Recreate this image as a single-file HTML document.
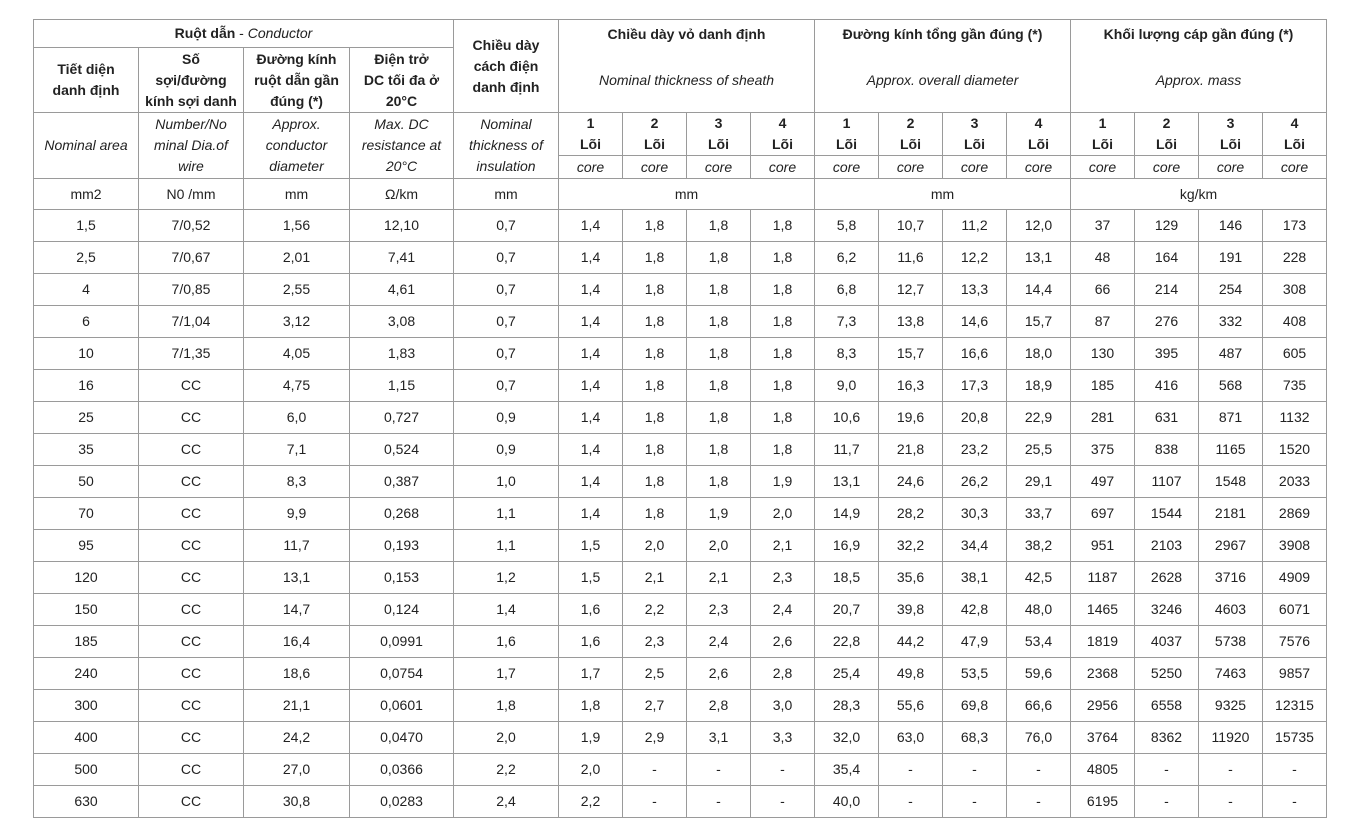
<!DOCTYPE html>
<html><head><meta charset="utf-8"><style>
body{margin:0;background:#fff;width:1367px;height:838px;overflow:hidden}
table{position:absolute;left:33px;top:19px;border-collapse:collapse;table-layout:fixed;font-family:"Liberation Sans",sans-serif;font-size:14px;color:#222}
td{border:1px solid #9a9a9a;text-align:center;padding:0;line-height:21px;overflow:hidden}
.b{font-weight:bold}
.i{font-style:italic}
tr.d td{height:31px}
</style></head><body>
<table>
<colgroup><col style="width:105px"><col style="width:105px"><col style="width:106px"><col style="width:104px"><col style="width:105px">
<col style="width:64px"><col style="width:64px"><col style="width:64px"><col style="width:64px"><col style="width:64px"><col style="width:64px"><col style="width:64px"><col style="width:64px"><col style="width:64px"><col style="width:64px"><col style="width:64px"><col style="width:64px"></colgroup>
<tr style="height:28px"><td colspan="4"><span class="b">Ruột dẫn</span> - <span class="i">Conductor</span></td>
<td rowspan="2" class="b">Chiều dày<br>cách điện<br>danh định</td>
<td colspan="4" rowspan="2" style="vertical-align:top"><div class="b" style="margin-top:4px">Chiều dày vỏ danh định</div><div class="i" style="margin-top:25px">Nominal thickness of sheath</div></td>
<td colspan="4" rowspan="2" style="vertical-align:top"><div class="b" style="margin-top:4px">Đường kính tổng gần đúng (*)</div><div class="i" style="margin-top:25px">Approx. overall diameter</div></td>
<td colspan="4" rowspan="2" style="vertical-align:top"><div class="b" style="margin-top:4px">Khối lượng cáp gần đúng (*)</div><div class="i" style="margin-top:25px">Approx. mass</div></td></tr>
<tr style="height:65px" class="b"><td>Tiết diện<br>danh định</td><td>Số<br>sợi/đường<br>kính sợi danh</td><td>Đường kính<br>ruột dẫn gần<br>đúng (*)</td><td>Điện trở<br>DC tối đa ở<br>20°C</td></tr>
<tr style="height:43px"><td rowspan="2" class="i">Nominal area</td><td rowspan="2" class="i">Number/No<br>minal Dia.of<br>wire</td><td rowspan="2" class="i">Approx.<br>conductor<br>diameter</td><td rowspan="2" class="i">Max. DC<br>resistance at<br>20°C</td><td rowspan="2" class="i">Nominal<br>thickness of<br>insulation</td>
<td class="b">1<br>Lõi</td><td class="b">2<br>Lõi</td><td class="b">3<br>Lõi</td><td class="b">4<br>Lõi</td><td class="b">1<br>Lõi</td><td class="b">2<br>Lõi</td><td class="b">3<br>Lõi</td><td class="b">4<br>Lõi</td><td class="b">1<br>Lõi</td><td class="b">2<br>Lõi</td><td class="b">3<br>Lõi</td><td class="b">4<br>Lõi</td></tr>
<tr style="height:23px" class="i"><td>core</td><td>core</td><td>core</td><td>core</td><td>core</td><td>core</td><td>core</td><td>core</td><td>core</td><td>core</td><td>core</td><td>core</td></tr>
<tr style="height:31px"><td>mm2</td><td>N0 /mm</td><td>mm</td><td>Ω/km</td><td>mm</td><td colspan="4">mm</td><td colspan="4">mm</td><td colspan="4">kg/km</td></tr>
<tr class="d"><td>1,5</td><td>7/0,52</td><td>1,56</td><td>12,10</td><td>0,7</td><td>1,4</td><td>1,8</td><td>1,8</td><td>1,8</td><td>5,8</td><td>10,7</td><td>11,2</td><td>12,0</td><td>37</td><td>129</td><td>146</td><td>173</td></tr>
<tr class="d"><td>2,5</td><td>7/0,67</td><td>2,01</td><td>7,41</td><td>0,7</td><td>1,4</td><td>1,8</td><td>1,8</td><td>1,8</td><td>6,2</td><td>11,6</td><td>12,2</td><td>13,1</td><td>48</td><td>164</td><td>191</td><td>228</td></tr>
<tr class="d"><td>4</td><td>7/0,85</td><td>2,55</td><td>4,61</td><td>0,7</td><td>1,4</td><td>1,8</td><td>1,8</td><td>1,8</td><td>6,8</td><td>12,7</td><td>13,3</td><td>14,4</td><td>66</td><td>214</td><td>254</td><td>308</td></tr>
<tr class="d"><td>6</td><td>7/1,04</td><td>3,12</td><td>3,08</td><td>0,7</td><td>1,4</td><td>1,8</td><td>1,8</td><td>1,8</td><td>7,3</td><td>13,8</td><td>14,6</td><td>15,7</td><td>87</td><td>276</td><td>332</td><td>408</td></tr>
<tr class="d"><td>10</td><td>7/1,35</td><td>4,05</td><td>1,83</td><td>0,7</td><td>1,4</td><td>1,8</td><td>1,8</td><td>1,8</td><td>8,3</td><td>15,7</td><td>16,6</td><td>18,0</td><td>130</td><td>395</td><td>487</td><td>605</td></tr>
<tr class="d"><td>16</td><td>CC</td><td>4,75</td><td>1,15</td><td>0,7</td><td>1,4</td><td>1,8</td><td>1,8</td><td>1,8</td><td>9,0</td><td>16,3</td><td>17,3</td><td>18,9</td><td>185</td><td>416</td><td>568</td><td>735</td></tr>
<tr class="d"><td>25</td><td>CC</td><td>6,0</td><td>0,727</td><td>0,9</td><td>1,4</td><td>1,8</td><td>1,8</td><td>1,8</td><td>10,6</td><td>19,6</td><td>20,8</td><td>22,9</td><td>281</td><td>631</td><td>871</td><td>1132</td></tr>
<tr class="d"><td>35</td><td>CC</td><td>7,1</td><td>0,524</td><td>0,9</td><td>1,4</td><td>1,8</td><td>1,8</td><td>1,8</td><td>11,7</td><td>21,8</td><td>23,2</td><td>25,5</td><td>375</td><td>838</td><td>1165</td><td>1520</td></tr>
<tr class="d"><td>50</td><td>CC</td><td>8,3</td><td>0,387</td><td>1,0</td><td>1,4</td><td>1,8</td><td>1,8</td><td>1,9</td><td>13,1</td><td>24,6</td><td>26,2</td><td>29,1</td><td>497</td><td>1107</td><td>1548</td><td>2033</td></tr>
<tr class="d"><td>70</td><td>CC</td><td>9,9</td><td>0,268</td><td>1,1</td><td>1,4</td><td>1,8</td><td>1,9</td><td>2,0</td><td>14,9</td><td>28,2</td><td>30,3</td><td>33,7</td><td>697</td><td>1544</td><td>2181</td><td>2869</td></tr>
<tr class="d"><td>95</td><td>CC</td><td>11,7</td><td>0,193</td><td>1,1</td><td>1,5</td><td>2,0</td><td>2,0</td><td>2,1</td><td>16,9</td><td>32,2</td><td>34,4</td><td>38,2</td><td>951</td><td>2103</td><td>2967</td><td>3908</td></tr>
<tr class="d"><td>120</td><td>CC</td><td>13,1</td><td>0,153</td><td>1,2</td><td>1,5</td><td>2,1</td><td>2,1</td><td>2,3</td><td>18,5</td><td>35,6</td><td>38,1</td><td>42,5</td><td>1187</td><td>2628</td><td>3716</td><td>4909</td></tr>
<tr class="d"><td>150</td><td>CC</td><td>14,7</td><td>0,124</td><td>1,4</td><td>1,6</td><td>2,2</td><td>2,3</td><td>2,4</td><td>20,7</td><td>39,8</td><td>42,8</td><td>48,0</td><td>1465</td><td>3246</td><td>4603</td><td>6071</td></tr>
<tr class="d"><td>185</td><td>CC</td><td>16,4</td><td>0,0991</td><td>1,6</td><td>1,6</td><td>2,3</td><td>2,4</td><td>2,6</td><td>22,8</td><td>44,2</td><td>47,9</td><td>53,4</td><td>1819</td><td>4037</td><td>5738</td><td>7576</td></tr>
<tr class="d"><td>240</td><td>CC</td><td>18,6</td><td>0,0754</td><td>1,7</td><td>1,7</td><td>2,5</td><td>2,6</td><td>2,8</td><td>25,4</td><td>49,8</td><td>53,5</td><td>59,6</td><td>2368</td><td>5250</td><td>7463</td><td>9857</td></tr>
<tr class="d"><td>300</td><td>CC</td><td>21,1</td><td>0,0601</td><td>1,8</td><td>1,8</td><td>2,7</td><td>2,8</td><td>3,0</td><td>28,3</td><td>55,6</td><td>69,8</td><td>66,6</td><td>2956</td><td>6558</td><td>9325</td><td>12315</td></tr>
<tr class="d"><td>400</td><td>CC</td><td>24,2</td><td>0,0470</td><td>2,0</td><td>1,9</td><td>2,9</td><td>3,1</td><td>3,3</td><td>32,0</td><td>63,0</td><td>68,3</td><td>76,0</td><td>3764</td><td>8362</td><td>11920</td><td>15735</td></tr>
<tr class="d"><td>500</td><td>CC</td><td>27,0</td><td>0,0366</td><td>2,2</td><td>2,0</td><td>-</td><td>-</td><td>-</td><td>35,4</td><td>-</td><td>-</td><td>-</td><td>4805</td><td>-</td><td>-</td><td>-</td></tr>
<tr class="d"><td>630</td><td>CC</td><td>30,8</td><td>0,0283</td><td>2,4</td><td>2,2</td><td>-</td><td>-</td><td>-</td><td>40,0</td><td>-</td><td>-</td><td>-</td><td>6195</td><td>-</td><td>-</td><td>-</td></tr>
</table>
</body></html>
